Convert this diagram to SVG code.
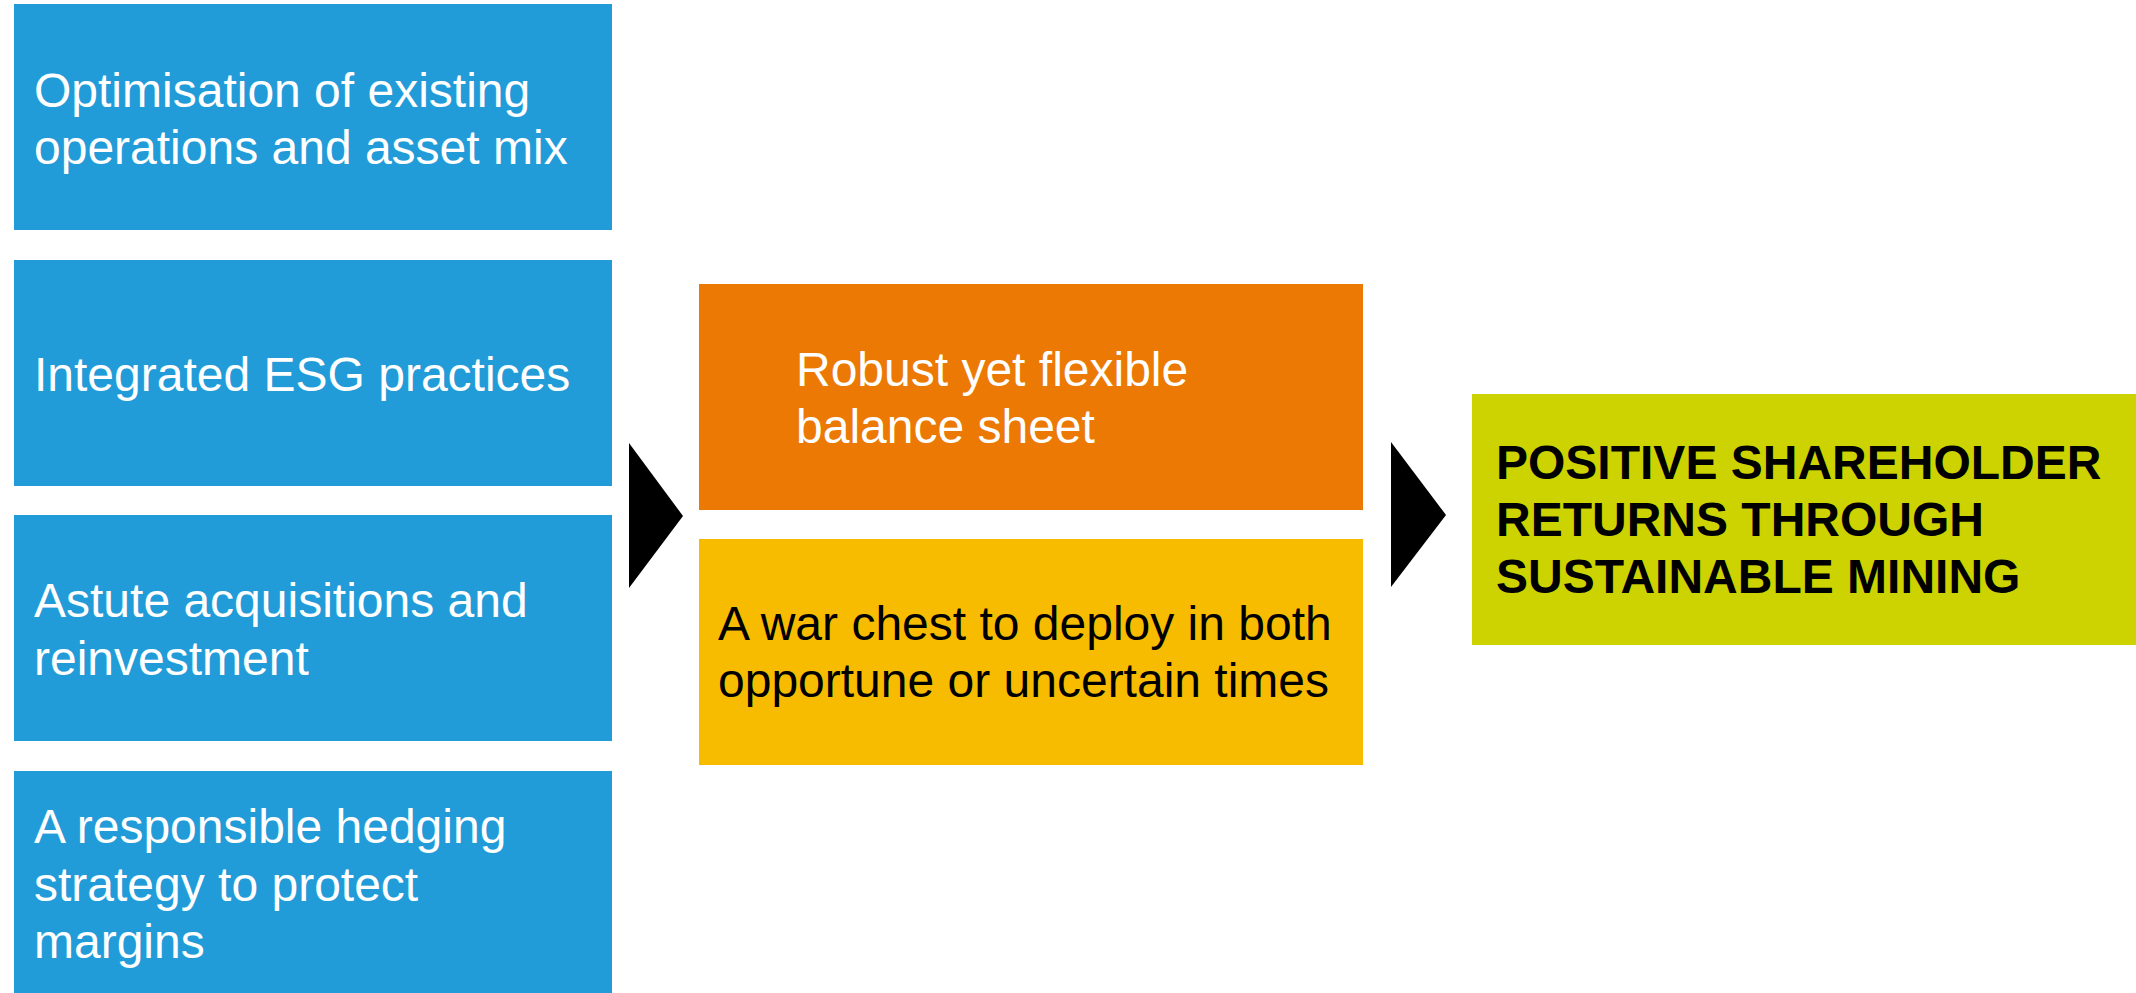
<svg xmlns="http://www.w3.org/2000/svg" width="2136" height="993" viewBox="0 0 2136 993">
  <style>
    .lbl { font-family: "Liberation Sans", Arial, sans-serif; font-size: 48px; }
    .w { fill: #ffffff; }
    .k { fill: #000000; }
    .b { font-weight: bold; }
    .blue { fill: #229CD8; }
    .orange { fill: #EB7904; }
    .yellow { fill: #F7BC00; }
    .green { fill: #CDD300; }
    .chev { fill: #000000; }
  </style>
  <rect width="2136" height="993" fill="#ffffff"/>

  <!-- drivers -->
  <g id="optimisation">
    <rect class="blue" x="14" y="4" width="598" height="226"/>
    <text class="lbl w" x="34" y="107">Optimisation of existing</text>
    <text class="lbl w" x="34" y="164">operations and asset mix</text>
  </g>
  <g id="esg">
    <rect class="blue" x="14" y="260" width="598" height="226"/>
    <text class="lbl w" x="34" y="391">Integrated ESG practices</text>
  </g>
  <g id="acquisitions">
    <rect class="blue" x="14" y="515" width="598" height="226"/>
    <text class="lbl w" x="34" y="617">Astute acquisitions and</text>
    <text class="lbl w" x="34" y="675">reinvestment</text>
  </g>
  <g id="hedging">
    <rect class="blue" x="14" y="771" width="598" height="222"/>
    <text class="lbl w" x="34" y="843">A responsible hedging</text>
    <text class="lbl w" x="34" y="901">strategy to protect</text>
    <text class="lbl w" x="34" y="958">margins</text>
  </g>

  <!-- financial position -->
  <g id="balance-sheet">
    <rect class="orange" x="699" y="284" width="664" height="226"/>
    <text class="lbl w" x="796" y="386">Robust yet flexible</text>
    <text class="lbl w" x="796" y="443">balance sheet</text>
  </g>
  <g id="war-chest">
    <rect class="yellow" x="699" y="539" width="664" height="226"/>
    <text class="lbl k" x="718" y="640">A war chest to deploy in both</text>
    <text class="lbl k" x="718" y="697">opportune or uncertain times</text>
  </g>

  <!-- outcome -->
  <g id="returns">
    <rect class="green" x="1472" y="394" width="664" height="251"/>
    <text class="lbl k b" x="1496" y="479">POSITIVE SHAREHOLDER</text>
    <text class="lbl k b" x="1496" y="536">RETURNS THROUGH</text>
    <text class="lbl k b" x="1496" y="593">SUSTAINABLE MINING</text>
  </g>

  <!-- chevron connectors -->
  <g id="connectors">
    <polygon class="chev" points="629,443 683,516 629,588"/>
    <polygon class="chev" points="1391,442 1446,515 1391,587"/>
  </g>
</svg>
